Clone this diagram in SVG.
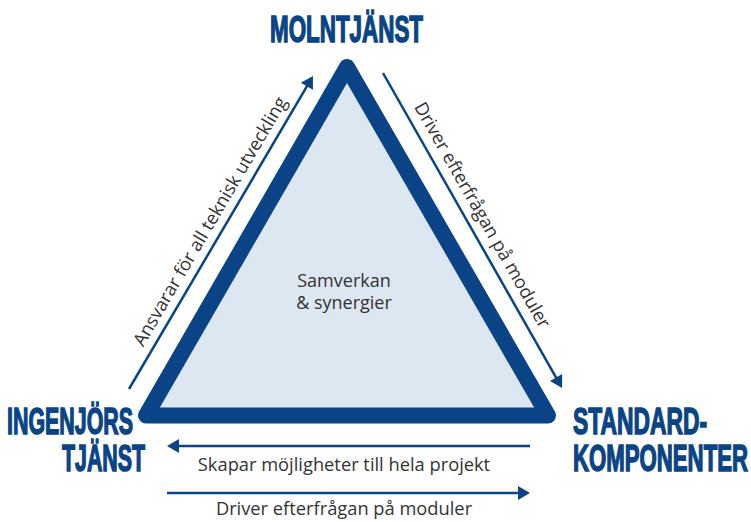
<svg xmlns="http://www.w3.org/2000/svg" width="751" height="522" viewBox="0 0 751 522">
<style>
.title{font-family:"Liberation Sans",Arial,sans-serif;font-weight:bold;font-size:22px;fill:#0a4486;stroke:#0a4486;stroke-width:0.9}
.lbl{font-family:"Open Sans",sans-serif;font-size:18.3px;fill:#333}
.ctr{font-family:"Open Sans",sans-serif;font-size:18px;fill:#333;text-anchor:middle}
.arr{stroke:#0a4486;stroke-width:2.5;fill:none;marker-end:url(#ah)}
</style>
<defs>
<marker id="ah" markerUnits="userSpaceOnUse" markerWidth="14" markerHeight="14" refX="2" refY="7" orient="auto" viewBox="0 0 12 14">
<path d="M0,0 L12,7 L0,14 z" fill="#0a4486"/>
</marker>
</defs>
<g id="triangle">
<polygon points="347,67 146,415.5 548,415.5" fill="#dde7f1" stroke="#0a4486" stroke-width="16" stroke-linejoin="round"/>
<text class="ctr" x="344" y="287">Samverkan</text>
<text class="ctr" x="344" y="309">&amp; synergier</text>
</g>
<g id="node-molntjanst">
<text class="title" transform="translate(270,42) scale(1,1.71)" textLength="153" lengthAdjust="spacingAndGlyphs">MOLNTJÄNST</text>
</g>
<g id="node-ingenjorstjanst">
<text class="title" transform="translate(7,434) scale(1,1.71)" textLength="126" lengthAdjust="spacingAndGlyphs">INGENJÖRS</text>
<text class="title" transform="translate(62,471) scale(1,1.71)" textLength="83" lengthAdjust="spacingAndGlyphs">TJÄNST</text>
</g>
<g id="node-standardkomponenter">
<text class="title" transform="translate(573,434) scale(1,1.71)" textLength="134" lengthAdjust="spacingAndGlyphs">STANDARD-</text>
<text class="title" transform="translate(573,471) scale(1,1.71)" textLength="175" lengthAdjust="spacingAndGlyphs">KOMPONENTER</text>
</g>
<g id="connectors">
<line class="arr" x1="129" y1="389" x2="307.9" y2="84.6"/>
<line class="arr" x1="383" y1="73" x2="557.1" y2="379.3"/>
<line class="arr" x1="530" y1="446" x2="177" y2="446"/>
<line class="arr" x1="167" y1="493" x2="520" y2="493"/>
<text class="lbl" text-anchor="middle" transform="translate(215.3,224.5) rotate(-59.6)">Ansvarar för all teknisk utveckling</text>
<text class="lbl" text-anchor="middle" transform="translate(477,218.2) rotate(60.4)">Driver efterfrågan på moduler</text>
<text class="lbl" text-anchor="middle" x="344" y="471">Skapar möjligheter till hela projekt</text>
<text class="lbl" text-anchor="middle" x="344" y="515">Driver efterfrågan på moduler</text>
</g>
</svg>
